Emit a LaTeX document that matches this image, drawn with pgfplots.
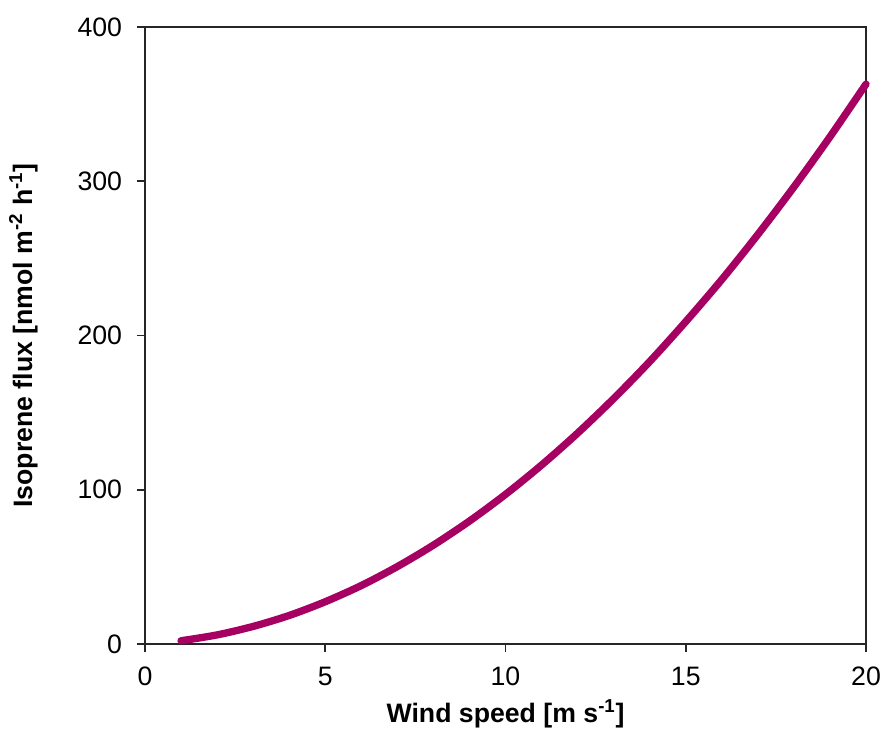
\documentclass[border=0pt]{standalone}
\usepackage{pgfplots}
\pgfplotsset{compat=1.18}
\usepackage{fontspec}
\setmainfont{Liberation Sans}
\definecolor{curve}{RGB}{166,0,98}
\begin{document}
\begin{tikzpicture}
\begin{axis}[
  scale only axis,
  width=540.75pt, height=462.75pt,
  xmin=0, xmax=20, ymin=0, ymax=400,
  xtick={0,5,10,15,20}, ytick={0,100,200,300,400},
  tick align=outside, tick pos=left,
  major tick length=6pt,
  axis line style={line width=1.2pt, black!85},
  every tick/.style={line width=1.2pt, black!85},
  /pgf/number format/assume math mode=true,
  tick label style={font=\fontsize{20}{24}\selectfont, inner sep=0pt},
  yticklabel style={xshift=-11pt},
  xticklabel style={yshift=-11pt},
  label style={font=\fontsize{20}{24}\selectfont\bfseries, inner sep=0pt},
  xlabel={Wind speed [m s\textsuperscript{-1}]},
  ylabel={Isoprene flux [nmol m\textsuperscript{-2} h\textsuperscript{-1}]},
  xlabel style={at={(axis description cs:0.5,-0.089)}, anchor=north},
  ylabel style={at={(axis description cs:-0.189,0.5)}, anchor=north, rotate=0},
  clip=false,
]
\addplot[color=curve, line width=5.5pt, line cap=round, smooth] coordinates {
(1,2.1) (2,5.9) (3,11.4) (4,18.5) (5,27.4) (6,37.9) (7,50.2) (8,64.1)
(9,79.7) (10,97) (11,116) (12,136.7) (13,159.1) (14,183.1) (15,209)
(16,236.3) (17,265.5) (18,296.3) (19,328.8) (20,363)
};
\end{axis}
\path ([shift={(-108.75pt,-65.25pt)}]current axis.south west) rectangle ([shift={(15.75pt,20.25pt)}]current axis.north east);
\end{tikzpicture}
\end{document}
